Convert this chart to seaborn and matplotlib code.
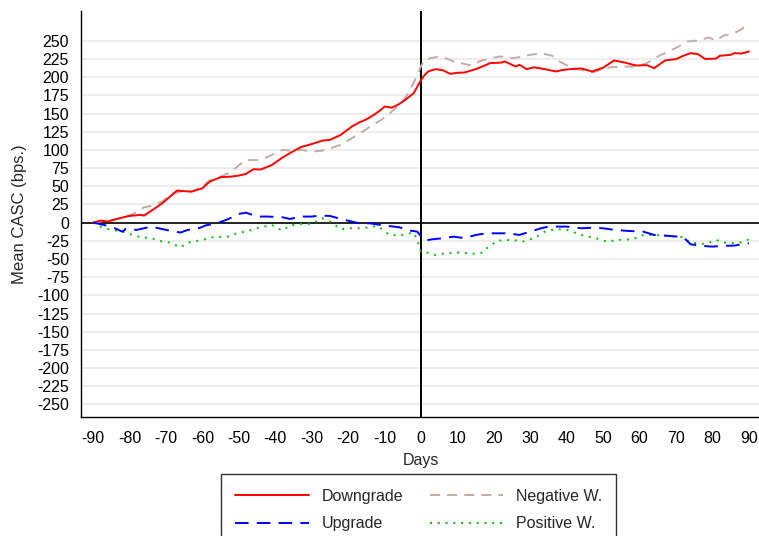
import matplotlib
matplotlib.use("Agg")
import matplotlib.pyplot as plt
import seaborn as sns

# ---------------- data ----------------
dg_days = [-90, -88, -86, -82, -80, -77, -76, -73, -71, -67, -63, -60, -58, -55, -52, -50,
           -48, -46, -44, -41, -38, -36, -33, -30, -27, -25, -22, -19, -17, -15, -13, -11,
           -10, -8, -6, -4, -2, 0, 1, 2, 4, 6, 8, 10, 12, 15, 17, 19, 22, 23, 26, 27, 29,
           31, 34, 37, 39, 41, 44, 47, 50, 53, 56, 59, 62, 64, 67, 70, 72, 74, 76, 78, 81,
           82, 85, 86, 88, 90]
dg_vals = [0, 2.8, 1.4, 6.9, 9.2, 10.6, 9.6, 19.7, 26.6, 44, 42.6, 47.2, 56.4, 62.4, 63.3, 64.7,
           67, 73.4, 73, 79, 89.5, 95.5, 103.7, 108, 112.8, 113.8, 120.7, 132, 137.6, 142, 148, 155,
           159.6, 158, 163, 170, 178, 196, 203, 208, 211, 209.5, 204.6, 206, 206.5, 211, 215, 219.3, 220, 221.6, 214.6, 217, 211,
           213.6, 211, 207.8, 210, 211, 212, 207.8, 213, 223, 220, 216, 216.5, 212.4, 223, 224.8, 229.4, 233, 231.7, 225, 225.5,
           229.4, 230.7, 233, 232.5, 235.3]

up_days = [-90, -87, -84, -82, -81, -78, -74, -72, -70, -66, -64, -61, -59, -56, -53, -50,
           -48, -45, -42, -38, -36, -33, -30, -28, -25, -22, -19, -17, -14, -10, -6, -3,
           -1, 0, 1, 3, 6, 9, 12, 15, 18, 21, 24, 27, 30, 33, 35, 40, 44, 47, 50, 53, 57,
           61, 64, 68, 72, 74, 77, 80, 83, 86, 90]
up_vals = [0, -3.2, -7.8, -12.4, -8.7, -10, -5.5, -7.8, -10, -13.7, -10, -7.8, -3.7, -1, 4.6, 11.9,
           13.7, 8.3, 8.3, 7.3, 5, 8.3, 8.3, 9.6, 9.2, 5, 1.4, -0.9, -1, -4, -6.4, -11,
           -12.4, -19, -24.8, -23, -21.5, -19.3, -21.5, -17, -14.7, -14.7, -14.7, -17, -12.4, -7.8, -5.5, -5.5, -7.8, -7, -7.8, -10, -11.5,
           -12.4, -17, -18.3, -20, -29.8, -32, -33, -32, -31.6, -28.4]

nw_days = [-90, -88, -85, -82, -79, -76, -74, -71, -69, -66, -63, -60, -58, -55, -52, -50,
           -48, -45, -43, -41, -38, -36, -33, -30, -27, -25, -22, -19, -16, -14, -11, -8,
           -5, -3, -1, 0, 1, 4, 6, 9, 12, 14, 16, 19, 22, 25, 28, 30, 33, 36, 38, 41, 44,
           47, 50, 52, 56, 59, 62, 65, 68, 71, 73, 76, 79, 81, 83, 86, 88, 90]
nw_vals = [0, 1.4, 3.7, 6.9, 11.9, 21, 23, 29, 38, 42.6, 42.6, 49.5, 57.8, 63.3, 70, 79,
           86, 86, 88, 93, 100, 99, 100, 97.7, 99, 102, 107, 116, 125, 132, 141, 152.7,
           166.5, 182, 203, 215, 224, 227.6, 227.5, 221.6, 218, 216, 221.6, 226, 228.5, 226, 228.5, 230.7, 233, 229.5, 221.6, 213.6, 210,
           206.4, 211, 213.6, 214.6, 214.6, 219.3, 228.5, 235.3, 243, 249, 250.4, 254.6, 250.4, 257, 260.6, 266, 274]

pw_days = [-90, -88, -85, -82, -80, -77, -74, -71, -69, -66, -64, -60, -57, -53, -50, -48,
           -45, -43, -41, -38, -36, -33, -30, -27, -25, -22, -19, -16, -12, -9, -6, -4,
           -2, -1, 0, 2, 4, 7, 11, 14, 17, 18, 21, 25, 28, 31, 34, 37, 40, 44, 48, 51, 54,
           58, 61, 64, 68, 72, 74, 78, 81, 83, 87, 90]
pw_vals = [0, -5.5, -10, -12.4, -15.6, -20, -21.5, -26, -27.5, -34, -27.5, -23.8, -20, -19.3, -13.7, -12.4,
           -7.8, -5.5, -3.2, -11, -4, -1.8, -1.8, 6, 1.4, -9, -7.8, -7.8, -4.6, -15.6, -18.3, -15.6,
           -13.7, -24, -40, -41.5, -44.5, -42, -41, -43, -41.3, -35.5, -24.8, -23.8, -26, -21.5, -12.4, -9, -10, -17, -21.5, -26, -23.8,
           -23, -17, -17, -18, -20, -27.5, -29.4, -23.8, -27.5, -28.4, -23]

x_ticks = list(range(-90, 91, 10))
y_ticks = list(range(-250, 251, 25))
labels = ["Downgrade", "Upgrade", "Negative W.", "Positive W."]

# ---------------- style ----------------
sns.set_style("white")
plt.rcParams["font.family"] = ["Liberation Sans", "DejaVu Sans"]
FS = 11.5

fig = plt.figure(figsize=(7.59, 5.36), dpi=100)
ax = fig.add_axes([0.1063, 0.2211, 0.8967, 0.7584])

ax.set_xlim(-93.4, 93.4)
ax.set_ylim(-268, 291)

# grid and reference lines
for yt in y_ticks:
    ax.axhline(yt, color="#ececec", lw=1.3, zorder=0)
ax.axhline(0, color="black", lw=1.2, zorder=1)
ax.axvline(0, color="black", lw=1.4, zorder=1)

lw = 1.4
sns.lineplot(x=dg_days, y=dg_vals, ax=ax, color="#ff0000", lw=lw, label=labels[0],
             estimator=None, sort=False, zorder=3)
sns.lineplot(x=up_days, y=up_vals, ax=ax, color="#0000ff", lw=lw, label=labels[1],
             estimator=None, sort=False, zorder=3)
ax.lines[-1].set_dashes((7, 4.2))
sns.lineplot(x=nw_days, y=nw_vals, ax=ax, color="#c4aca6", lw=lw, label=labels[2],
             estimator=None, sort=False, zorder=2)
ax.lines[-1].set_dashes((5.2, 3.6))
sns.lineplot(x=pw_days, y=pw_vals, ax=ax, color="#00c000", lw=lw, label=labels[3],
             estimator=None, sort=False, zorder=2)
ax.lines[-1].set_dashes((1.0, 3.0))

handles, labs = ax.get_legend_handles_labels()
ax.get_legend().remove()

ax.set_xticks(x_ticks)
ax.set_xticklabels([str(v) for v in x_ticks])
ax.set_yticks(y_ticks)
ax.set_yticklabels([str(v) for v in y_ticks])
ax.tick_params(axis="both", which="major", direction="out", length=7, width=1,
               color="black", labelsize=FS, labelcolor="black")
ax.tick_params(axis="y", pad=1.5)
ax.tick_params(axis="x", pad=3)

for s in ["top", "right"]:
    ax.spines[s].set_visible(False)
for s in ["left", "bottom"]:
    ax.spines[s].set_color("black")
    ax.spines[s].set_linewidth(1.0)

ax.set_xlabel("Days", fontsize=FS, labelpad=5)
ax.set_ylabel("Mean CASC (bps.)", fontsize=12, labelpad=7)

leg = fig.legend(handles, labs, ncol=2, loc="upper center",
                 bbox_to_anchor=(0.5516, 0.1151), frameon=True, fancybox=False,
                 fontsize=FS, handlelength=4.6, handletextpad=0.8,
                 columnspacing=1.65, labelspacing=0.8, borderpad=0.9,
                 borderaxespad=0)
leg.get_frame().set_edgecolor("black")
leg.get_frame().set_linewidth(1.0)

fig.savefig("out.png", dpi=100)
